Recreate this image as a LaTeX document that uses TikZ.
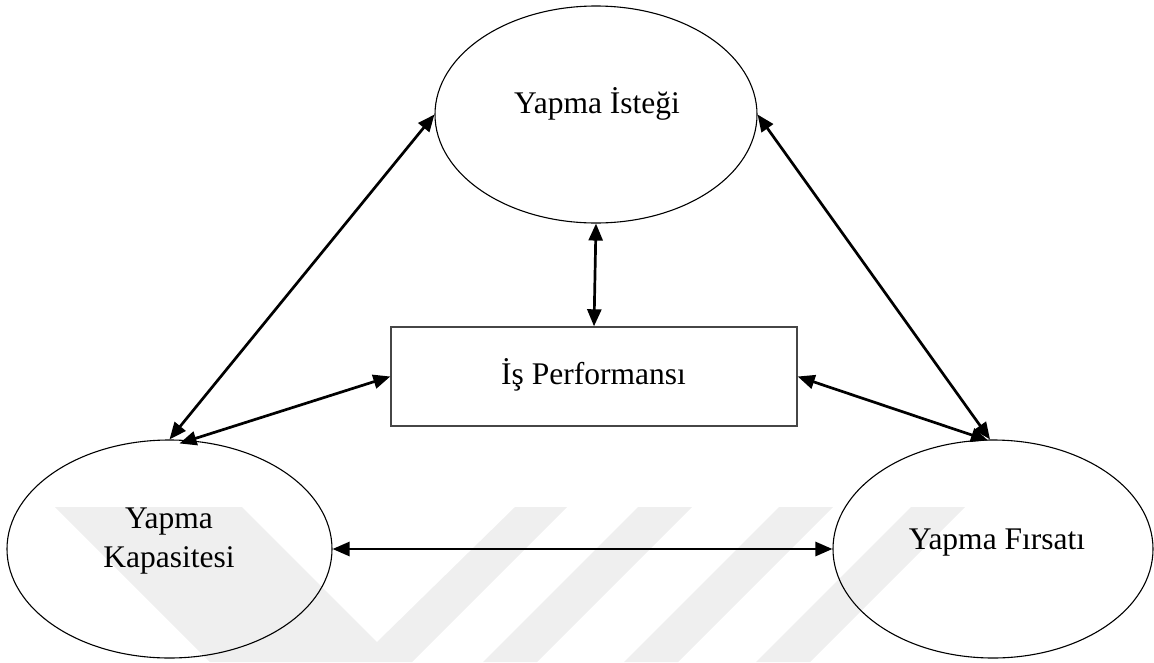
\documentclass[tikz,border=0pt]{standalone}
\usepackage{fontspec}
\setmainfont{Liberation Serif}
\usetikzlibrary{shapes.geometric,arrows.meta}
\definecolor{wmark}{RGB}{239,239,239}
\definecolor{boxline}{RGB}{70,70,70}
\begin{document}
\begin{tikzpicture}[x=1pt,y=-1pt,
  oval/.style={draw,shape=ellipse,line width=1.1pt,inner sep=0pt},
  perfbox/.style={draw=boxline,rectangle,line width=1.4pt,inner sep=0pt,
    minimum width=406pt,minimum height=99pt},
  lbl/.style={font=\fontsize{31.5}{39}\selectfont,align=center,anchor=base,inner sep=0pt},
  link/.style={line width=2.7pt,
    {Triangle[length=17pt,width=14pt]}-{Triangle[length=17pt,width=14pt]}}]
\useasboundingbox (0,0) rectangle (1154,662);
% faint background marks
\fill[wmark] (55,507) -- (242,507) -- (377,642) -- (515,507) -- (567,507)
  -- (412,662) -- (210,662) -- cycle;
\fill[wmark] (638,507) -- (692,507) -- (537,662) -- (483,662) -- cycle;
\fill[wmark] (779,507) -- (833,507) -- (678,662) -- (624,662) -- cycle;
\fill[wmark] (911,507) -- (965,507) -- (810,662) -- (756,662) -- cycle;
% shapes
\node[oval,minimum width=322pt,minimum height=217pt] (ki) at (596,114.5) {};
\node[oval,minimum width=325pt,minimum height=218pt] (kk) at (169.5,549) {};
\node[oval,minimum width=320pt,minimum height=218pt] (kf) at (993,549) {};
\node[perfbox] (perf) at (594,376.5) {};
% texts
\node[lbl] (tki) at (597,113) {Yapma İsteği};
\node[lbl] (tkk) at (169,567) {Yapma\\Kapasitesi};
\node[lbl] (tkf) at (997,549) {Yapma Fırsatı};
\node[lbl] (tperf) at (593.5,384) {İş Performansı};
% connectors
\draw[link] (ki.180) -- (kk.90);
\draw[link] (ki.0) -- ([xshift=-3pt]kf.90);
\draw[link] (ki.270) -- (perf.north);
\draw[link] ([xshift=10pt,yshift=-4pt]kk.90) -- (perf.west);
\draw[link] (perf.east) -- ([xshift=-5pt,yshift=-1pt]kf.90);
\draw[link] (kk.0) -- (kf.180);
\end{tikzpicture}
\end{document}
